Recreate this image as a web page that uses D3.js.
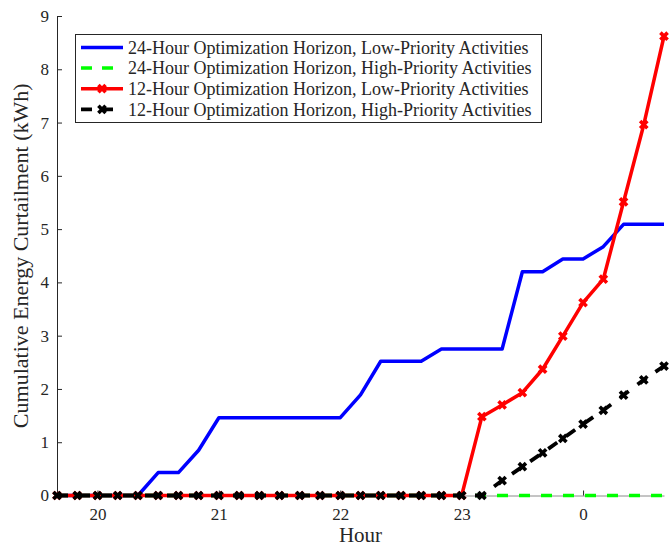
<!DOCTYPE html>
<html>
<head>
<meta charset="utf-8">
<script src="https://cdn.jsdelivr.net/npm/d3@7"></script>
<style>
  html, body { margin: 0; padding: 0; background: #fff; }
  svg { display: block; }
  text { font-family: "Liberation Serif", "Times New Roman", serif; fill: #262626; }
</style>
</head>
<body>
<svg id="chart" width="669" height="546"></svg>
<script>
// Time steps (10-minute resolution, evening into the next day)
const times = ["19:40","19:50","20:00","20:10","20:20","20:30","20:40","20:50",
  "21:00","21:10","21:20","21:30","21:40","21:50","22:00","22:10","22:20",
  "22:30","22:40","22:50","23:00","23:10","23:20","23:30","23:40","23:50",
  "0:00","0:10","0:20","0:30","0:40"];

// Cumulative energy curtailment (kWh)
const low24 = [0,0,0,0,0,0.43,0.43,0.85,1.46,1.46,1.46,1.46,1.46,1.46,1.46,
  1.89,2.52,2.52,2.52,2.75,2.75,2.75,2.75,4.2,4.2,4.44,4.44,4.67,5.09,5.09,5.09];
const high24 = [0,0,0,0,0,0,0,0,0,0,0,0,0,0,0,0,0,0,0,0,0,0,0,0,0,0,0,0,0,0,0];
const low12 = [0,0,0,0,0,0,0,0,0,0,0,0,0,0,0,0,0,0,0,0,0,1.48,1.70,1.93,2.37,
  2.99,3.62,4.06,5.51,6.96,8.62];
const high12 = [0,0,0,0,0,0,0,0,0,0,0,0,0,0,0,0,0,0,0,0,0,0,0.28,0.54,0.80,
  1.07,1.34,1.60,1.885,2.17,2.43];

const xTicks = [20, 21, 22, 23, 24];
const xTickLabels = ["20", "21", "22", "23", "0"];
const yTicks = [0, 1, 2, 3, 4, 5, 6, 7, 8, 9];

const seriesNames = [
  "24-Hour Optimization Horizon, Low-Priority Activities",
  "24-Hour Optimization Horizon, High-Priority Activities",
  "12-Hour Optimization Horizon, Low-Priority Activities",
  "12-Hour Optimization Horizon, High-Priority Activities"
];

// Convert "HH:MM" to hours on a continuous axis (past midnight -> 24+)
const toHour = s => {
  const [h, m] = s.split(":").map(Number);
  return (h < 12 ? h + 24 : h) + m / 60;
};
const hours = times.map(toHour);

const series = [
  { name: seriesNames[0], values: low24,  color: "#0000ff", dash: null,    marker: false, width: 3.5 },
  { name: seriesNames[1], values: high24, color: "#00ff00", dash: "11,11", marker: false, width: 3.5 },
  { name: seriesNames[2], values: low12,  color: "#ff0000", dash: null,    marker: true,  width: 3.5 },
  { name: seriesNames[3], values: high12, color: "#000000", dash: "11,11", marker: true,  width: 3.8 }
];

const svg = d3.select("#chart");
const margin = { left: 57, right: 5, top: 16, bottom: 50.5 };
const W = 669, H = 546;

const x = d3.scaleLinear()
  .domain([d3.min(hours), d3.max(hours)])
  .range([margin.left, W - margin.right]);
const y = d3.scaleLinear()
  .domain([0, 9])
  .range([H - margin.bottom, margin.top]);

const axisColor = "#262626";

// Axes (ticks point inward)
const xAxis = svg.append("g")
  .attr("transform", `translate(0,${y(0)})`)
  .call(d3.axisBottom(x).tickValues(xTicks)
    .tickFormat((d, i) => xTickLabels[i]).tickSizeInner(-5).tickSizeOuter(0).tickPadding(12));
const yAxis = svg.append("g")
  .attr("transform", `translate(${x.range()[0]},0)`)
  .call(d3.axisLeft(y).tickValues(yTicks).tickSizeInner(-5).tickSizeOuter(0).tickPadding(8));

[xAxis, yAxis].forEach(g => {
  g.select(".domain").attr("stroke", axisColor).attr("stroke-width", 1);
  g.selectAll(".tick line").attr("stroke", axisColor);
  g.selectAll(".tick text")
    .style("font-family", '"Liberation Serif", serif')
    .style("font-size", "17px")
    .attr("fill", axisColor);
});
xAxis.select(".domain").attr("stroke", "#8a8a8a");

// Axis labels
svg.append("text")
  .attr("x", (x.range()[0] + x.range()[1]) / 2)
  .attr("y", 542)
  .attr("text-anchor", "middle")
  .style("font-size", "21px")
  .text("Hour");
svg.append("text")
  .attr("transform", `translate(28,${(y(0) + y(9)) / 2}) rotate(-90)`)
  .attr("text-anchor", "middle")
  .style("font-size", "22px")
  .text("Cumulative Energy Curtailment (kWh)");

// Lines and markers
const line = d3.line().x((d, i) => x(hours[i])).y(d => y(d));
const xMark = (s) => `M${-s},${-s}L${s},${s}M${-s},${s}L${s},${-s}`;

const plot = svg.append("g");
series.forEach(s => {
  plot.append("path")
    .datum(s.values)
    .attr("d", line)
    .attr("fill", "none")
    .attr("stroke", s.color)
    .attr("stroke-width", s.width)
    .attr("stroke-linejoin", "round")
    .attr("stroke-dasharray", s.dash);
  if (s.marker) {
    plot.append("g").selectAll("path")
      .data(s.values)
      .join("path")
      .attr("transform", (d, i) => `translate(${x(hours[i])},${y(d)})`)
      .attr("d", xMark(3.6))
      .attr("fill", "none")
      .attr("stroke", s.color)
      .attr("stroke-width", 3.6);
  }
});

// Legend
const lg = svg.append("g");
lg.append("rect")
  .attr("x", 75.5).attr("y", 34.5)
  .attr("width", 466).attr("height", 88)
  .attr("fill", "#fff")
  .attr("stroke", axisColor)
  .attr("stroke-width", 1);
series.forEach((s, i) => {
  const cy = 47.5 + i * 20.6;
  lg.append("line")
    .attr("x1", 81).attr("x2", 123)
    .attr("y1", cy).attr("y2", cy)
    .attr("stroke", s.color)
    .attr("stroke-width", s.width)
    .attr("stroke-dasharray", s.dash ? "11,10" : null);
  if (s.marker) {
    lg.append("path")
      .attr("transform", `translate(102,${cy})`)
      .attr("d", xMark(3.6))
      .attr("fill", "none")
      .attr("stroke", s.color)
      .attr("stroke-width", 3.6);
  }
  lg.append("text")
    .attr("x", 128)
    .attr("y", cy)
    .attr("dy", "0.35em")
    .style("font-size", "18px")
    .text(s.name);
});
</script>
</body>
</html>
